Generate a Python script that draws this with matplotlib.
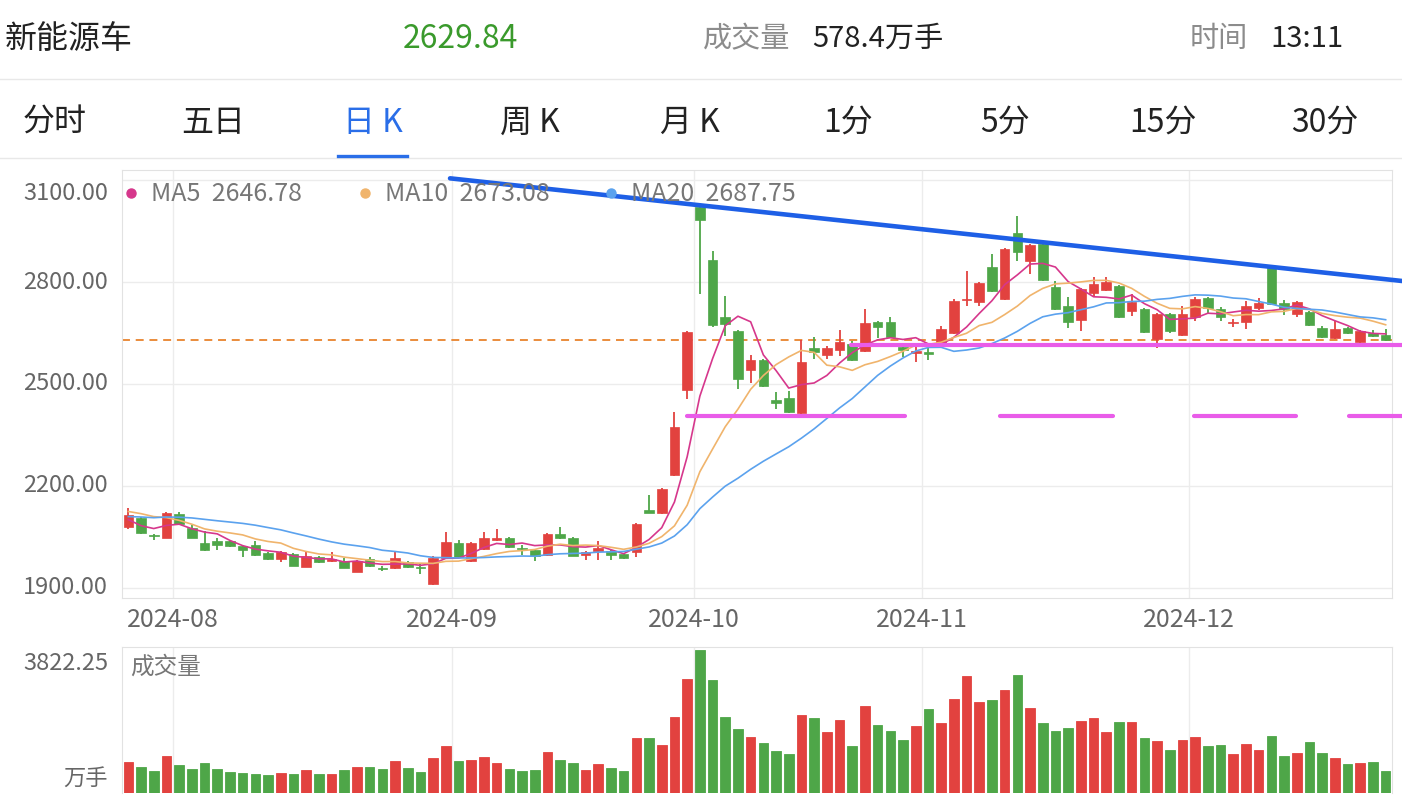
import numpy as np
import pandas as pd
import matplotlib
matplotlib.use("Agg")
import matplotlib.pyplot as plt
from matplotlib.lines import Line2D

plt.rcParams['font.family'] = ['Noto Sans CJK SC', 'DejaVu Sans']

# ---------------------------------------------------------------
# Data: daily K-line, 2024-07-26 .. 2024-12-23 (100 trading days)
# ---------------------------------------------------------------
open_ = [2080, 2107, 2056, 2048, 2119, 2077, 2033, 2037, 2037, 2022,
         2027, 2003, 1986, 2000, 1963, 1992, 1978, 1978, 1948, 1986,
         1960, 1960, 1975, 1963, 1912, 1989, 2032, 1978, 2014, 2040,
         2047, 2017, 2012, 1997, 2058, 2047, 1997, 2010, 2010, 2000,
         2007, 2130, 2120, 2233, 2482, 3020, 2865, 2697, 2656, 2541,
         2571, 2452, 2458, 2415, 2605, 2585, 2600, 2619, 2597, 2681,
         2683, 2608, 2592, 2593, 2622, 2649, 2746, 2740, 2845, 2750,
         2943, 2863, 2912, 2786, 2730, 2689, 2767, 2776, 2787, 2715,
         2722, 2632, 2705, 2643, 2696, 2753, 2720, 2679, 2681, 2723,
         2844, 2737, 2705, 2713, 2666, 2635, 2666, 2625, 2651, 2644]
high = [2136, 2110, 2059, 2124, 2124, 2084, 2068, 2048, 2040, 2024,
        2039, 2006, 2008, 2003, 2005, 1995, 2005, 1988, 1983, 1990,
        1966, 2005, 1978, 1974, 1995, 2065, 2042, 2035, 2066, 2073,
        2050, 2027, 2015, 2061, 2079, 2050, 2010, 2037, 2013, 2003,
        2092, 2174, 2194, 2417, 2656, 3030, 2892, 2759, 2659, 2584,
        2575, 2477, 2479, 2630, 2637, 2612, 2658, 2626, 2720, 2684,
        2696, 2611, 2612, 2611, 2671, 2750, 2833, 2800, 2882, 2900,
        2995, 2912, 2915, 2804, 2755, 2782, 2814, 2814, 2791, 2764,
        2725, 2708, 2708, 2730, 2756, 2756, 2727, 2691, 2745, 2753,
        2848, 2747, 2745, 2716, 2671, 2686, 2669, 2659, 2658, 2661]
low = [2074, 2058, 2042, 2046, 2085, 2046, 2010, 2012, 2021, 1992,
       1995, 1983, 1975, 1964, 1961, 1972, 1976, 1958, 1946, 1963,
       1950, 1957, 1960, 1941, 1910, 1986, 1989, 1975, 2011, 2038,
       2017, 1997, 1978, 1994, 2045, 1993, 1981, 1981, 1983, 1985,
       1991, 2120, 2117, 2230, 2457, 2764, 2668, 2641, 2484, 2504,
       2490, 2427, 2415, 2412, 2573, 2575, 2581, 2568, 2594, 2634,
       2634, 2578, 2565, 2570, 2619, 2646, 2730, 2730, 2771, 2747,
       2863, 2823, 2804, 2717, 2666, 2656, 2755, 2773, 2693, 2700,
       2650, 2607, 2649, 2640, 2686, 2710, 2684, 2668, 2661, 2717,
       2732, 2703, 2697, 2670, 2634, 2632, 2646, 2619, 2638, 2627]
close = [2115, 2061, 2053, 2121, 2088, 2048, 2012, 2027, 2024, 2012,
         1997, 1986, 2006, 1966, 1995, 1975, 1986, 1960, 1980, 1966,
         1956, 1989, 1963, 1959, 1989, 2036, 1992, 2032, 2047, 2048,
         2020, 2014, 1994, 2058, 2047, 1995, 2007, 2017, 1997, 1988,
         2089, 2122, 2191, 2374, 2653, 2981, 2673, 2676, 2514, 2571,
         2494, 2443, 2418, 2565, 2595, 2605, 2625, 2571, 2679, 2669,
         2637, 2599, 2597, 2587, 2661, 2743, 2750, 2797, 2774, 2897,
         2887, 2909, 2807, 2720, 2683, 2779, 2794, 2799, 2696, 2740,
         2653, 2705, 2656, 2705, 2750, 2725, 2696, 2683, 2730, 2737,
         2735, 2720, 2740, 2673, 2637, 2661, 2649, 2656, 2641, 2629.84]
# volume, 万手
volume = [825, 700, 592, 996, 754, 646, 807, 646, 565, 547,
          520, 484, 547, 502, 610, 520, 511, 628, 709, 700,
          646, 861, 682, 565, 942, 1256, 852, 888, 978, 807,
          655, 601, 628, 1086, 897, 798, 619, 790, 682, 592,
          1471, 1462, 1283, 2037, 3068, 3822.25, 3033, 2046, 1705, 1507,
          1328, 1130, 1041, 2090, 2019, 1624, 1956, 1256, 2333, 1821,
          1669, 1418, 1794, 2252, 1875, 2512, 3140, 2431, 2494, 2754,
          3167, 2270, 1884, 1669, 1732, 1938, 2010, 1633, 1893, 1911,
          1480, 1400, 1166, 1418, 1498, 1256, 1274, 1050, 1310, 1148,
          1516, 987, 1077, 1373, 1077, 942, 772, 816, 843, 578.4]
# closes before the window (only to warm up MA lines, backed out of where the MAs start)
prior_close = [2085, 2095, 2080, 2100, 2091, 2095, 2110, 2100, 2090, 2104,
               2125, 2140, 2150, 2170, 2160, 2150, 2095, 2075, 2070]

month_idx = [4, 26, 45, 63, 84]
month_labels = ["2024-08", "2024-09", "2024-10", "2024-11", "2024-12"]
price_ticks = [1900, 2200, 2500, 2800, 3100]
ma_periods = [5, 10, 20]
ma_last = ["2646.78", "2673.08", "2687.75"]

# hand-drawn lines (bar index, price)
trend_x = [25.33, 100.29]
trend_y = [3105, 2803]
resist_level = 2615
resist_span = (56.9, 100.28)
support_level = 2407
support_spans = [(43.98, 61.15), (68.64, 77.53), (83.91, 91.94), (96.11, 100.28)]

name = "新能源车"
last_price = "2629.84"
last_vol = "578.4万手"
last_time = "13:11"
tabs = ["分时", "五日", "日 K", "周 K", "月 K", "1分", "5分", "15分", "30分"]
active_tab = 2

# ---------------------------------------------------------------
RED, GREEN = "#e2423f", "#4ea648"
MA_COLORS = ["#d6378c", "#f0b46c", "#5ba2ee"]
GRID = "#ececec"
W, H = 1402, 808


def fx(x):
    return x / W


def fy(y):
    return 1 - y / H


fig = plt.figure(figsize=(W / 100, H / 100), dpi=100)
fig.patch.set_facecolor("white")

ax = fig.add_axes([fx(122), fy(598), (1392 - 122) / W, (598 - 170) / H])
axv = fig.add_axes([fx(122), fy(793), (1392 - 122) / W, (793 - 647) / H])

o = np.array(open_, float)
c = np.array(close, float)
hi = np.array(high, float)
lo = np.array(low, float)
x = np.arange(len(c))
up = c >= o
cols = np.where(up, RED, GREEN)

# --- candles ---
ax.vlines(x, lo, hi, colors=cols, lw=1.3, zorder=3)
body_lo = np.minimum(o, c)
body_h = np.maximum(np.abs(c - o), 3)
ax.bar(x, body_h, bottom=body_lo, width=0.76, color=cols, edgecolor=cols,
       linewidth=0.5, zorder=4)

# --- moving averages ---
full = pd.Series(prior_close + list(close), dtype=float)
for n, col in zip(ma_periods, MA_COLORS):
    ma = full.rolling(n).mean().values[len(prior_close):]
    ax.plot(x, ma, color=col, lw=1.2, zorder=5)

# --- reference lines ---
ax.axhline(c[-1], color="#e8832d", lw=1.3, dashes=(4.4, 3.2), zorder=2)
ax.plot(trend_x, trend_y, color="#1e5fe6", lw=3.3, solid_capstyle="round",
        clip_on=False, zorder=8)
ax.plot(resist_span, [resist_level] * 2, color="#e95ce9", lw=3.0,
        solid_capstyle="round", clip_on=False, zorder=7)
for a, b in support_spans:
    ax.plot([a, b], [support_level] * 2, color="#e95ce9", lw=3.0,
            solid_capstyle="round", clip_on=False, zorder=7)

ax.set_xlim(-0.5, len(c) - 0.5)
ax.set_ylim(1870.5, 3129.5)
ax.set_yticks(price_ticks)
ax.set_xticks([])
ax.grid(axis="y", color=GRID, lw=1)
for m in month_idx:
    ax.axvline(m - 0.5, color=GRID, lw=1, zorder=0)
ax.tick_params(length=0, labelleft=False, labelbottom=False)
for s in ax.spines.values():
    s.set_color("#e2e2e2")

for lv in price_ticks:
    top = lv == price_ticks[-1]
    ax.annotate(f"{lv:.2f}", xy=(0, lv), xycoords=("axes fraction", "data"),
                xytext=(-10, -10 if top else 0), textcoords="offset points",
                ha="right", va="center", fontsize=17, color="#666666")
for m, lbl in zip(month_idx, month_labels):
    ax.annotate(lbl, xy=(m - 0.5, 0), xycoords=("data", "axes fraction"),
                xytext=(0, -16), textcoords="offset points",
                ha="center", va="center", fontsize=18, color="#666666")

# --- legend ---
leg_x = [131, 365, 611]
for lx, col, n, val in zip(leg_x, MA_COLORS, ma_periods, ma_last):
    fig.add_artist(Line2D([fx(lx)], [fy(193)], marker="o", ms=6.5, color=col,
                          transform=fig.transFigure))
    fig.text(fx(lx + 20), fy(194), f"MA{n}  {val}", ha="left", va="center",
             fontsize=18, color="#777777", zorder=1)

# --- volume ---
axv.bar(x, volume, width=0.76, color=cols, edgecolor=cols, linewidth=0.6)
axv.set_xlim(-0.5, len(c) - 0.5)
axv.set_ylim(0, 3914)
axv.set_xticks([])
axv.set_yticks([])
for m in month_idx:
    axv.axvline(m - 0.5, color=GRID, lw=1, zorder=0)
for s in axv.spines.values():
    s.set_color("#e2e2e2")
axv.spines["bottom"].set_visible(False)
fig.text(fx(108), fy(663), f"{max(volume):.2f}", ha="right", va="center",
         fontsize=17, color="#666666")
fig.text(fx(108), fy(778), "万手", ha="right", va="center", fontsize=16,
         color="#666666")
fig.text(fx(130), fy(667), "成交量", ha="left", va="center", fontsize=17,
         color="#777777")

# --- header ---
fig.text(fx(5), fy(39), name, ha="left", va="center", fontsize=23, color="#222222")
fig.text(fx(460), fy(39), last_price, ha="center", va="center", fontsize=23,
         color="#3a9a2c")
fig.text(fx(703), fy(39), "成交量", ha="left", va="center", fontsize=21, color="#8c8c8c")
fig.text(fx(812), fy(39), last_vol, ha="left", va="center", fontsize=21, color="#222222")
fig.text(fx(1190), fy(39), "时间", ha="left", va="center", fontsize=21, color="#8c8c8c")
fig.text(fx(1270), fy(39), last_time, ha="left", va="center", fontsize=21, color="#222222")

tab_x = [55, 213, 373, 530, 690, 848, 1005, 1163, 1325]
for i, (tx, t) in enumerate(zip(tab_x, tabs)):
    fig.text(fx(tx), fy(123), t, ha="center", va="center", fontsize=23,
             color="#2a6ee8" if i == active_tab else "#222222")

for yy in (79, 158):
    fig.add_artist(Line2D([0, 1], [fy(yy)] * 2, color="#e8e8e8", lw=1,
                          transform=fig.transFigure))
fig.add_artist(Line2D([fx(338), fx(407)], [fy(156)] * 2, color="#2a6ee8", lw=2.4,
                      transform=fig.transFigure))

fig.savefig("out.png", dpi=100, facecolor="white")
